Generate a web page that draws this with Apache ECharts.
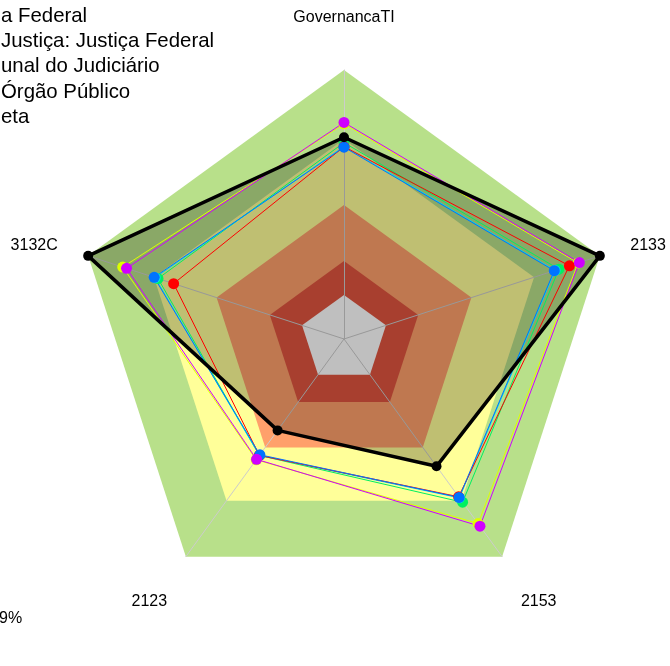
<!DOCTYPE html>
<html>
<head>
<meta charset="utf-8">
<script src="https://cdn.jsdelivr.net/npm/echarts@6/dist/echarts.min.js"></script>
<style>html,body{margin:0;padding:0;background:#fff}#c{width:670px;height:666px}</style>
</head>
<body>
<div id="c"></div>
<script>
// Axes, in counter-clockwise order starting at the top
const indicators = ['GovernancaTI', '3132C', '2123', '2153', '2133'];
const axisMax = 1;

// Background maturity bands (outer edge value) and colours
const bandLevels = [1.0, 0.743, 0.498, 0.29, 0.164];
const bandColors = ['#B8E08A', '#FFFF99', '#FFA06B', '#E0553F', '#FFFFFF'];

// Series values [GovernancaTI, 3132C, 2123, 2153, 2133]
const yellowVals  = [0.800, 0.865, 0.555, 0.848, 0.915];
const greenVals   = [0.730, 0.727, 0.535, 0.750, 0.840];
const cyanVals    = [0.716, 0.738, 0.535, 0.730, 0.825];
const redVals     = [0.715, 0.666, 0.535, 0.725, 0.881];
const blueVals    = [0.713, 0.742, 0.532, 0.728, 0.822];
const magentaVals = [0.805, 0.850, 0.553, 0.860, 0.920];
const metaVals    = [0.750, 1.000, 0.420, 0.585, 1.000];

// Visible legend texts (cut at the left edge in the original)
const legendLabels = ['a Federal', 'Justiça: Justiça Federal', 'unal do Judiciário', 'Órgão Público', 'eta'];
const footText = '9%';

const seriesDefs = [
  { name: 'Série A', color: '#DDFF00', values: yellowVals },
  { name: legendLabels[0], color: '#00F060', values: greenVals },
  { name: legendLabels[1], color: '#00E5E5', values: cyanVals },
  { name: legendLabels[2], color: '#FF0000', values: redVals },
  { name: legendLabels[3], color: '#0073FF', values: blueVals },
  { name: 'Série B', color: '#D000FF', values: magentaVals }
];

const font = 'Liberation Sans, Arial, sans-serif';
const chart = echarts.init(document.getElementById('c'));

const richKey = { 'GovernancaTI': 'top', '2153': 'bot', '2123': 'bot', '3132C': 'side', '2133': 'side' };

const series = [];
series.push({
  type: 'radar', name: 'bands', silent: true, z: 1,
  symbol: 'none',
  data: bandLevels.map((v, i) => ({
    value: indicators.map(() => v),
    lineStyle: { width: 0, opacity: 0 },
    areaStyle: { color: bandColors[i], opacity: 1 }
  }))
});
// Meta fill, under the coloured lines
series.push({
  type: 'radar', name: 'metaArea', z: 4, silent: true,
  symbol: 'none',
  lineStyle: { width: 0, opacity: 0 },
  areaStyle: { color: 'rgba(0,0,0,0.25)', opacity: 1 },
  data: [{ value: metaVals }]
});
seriesDefs.forEach(s => {
  series.push({
    type: 'radar', name: s.name, z: 5, silent: true,
    symbol: 'circle', symbolSize: 11,
    itemStyle: { color: s.color },
    lineStyle: { color: s.color, width: 1 },
    data: [{ value: s.values, name: s.name }]
  });
});
series.push({
  type: 'radar', name: legendLabels[4], z: 6, silent: true,
  symbol: 'circle', symbolSize: 10,
  itemStyle: { color: '#000' },
  lineStyle: { color: '#000', width: 3.5 },
  data: [{ value: metaVals, name: legendLabels[4] }]
});

chart.setOption({
  animation: false,
  backgroundColor: '#fff',
  textStyle: { fontFamily: font },
  title: {
    text: footText, left: -1, top: 611, padding: 0,
    textStyle: { fontSize: 16, fontWeight: 'normal', color: '#000', fontFamily: font }
  },
  legend: {
    orient: 'vertical', left: -29, top: 6, padding: 0,
    itemWidth: 25, itemHeight: 14, itemGap: 5.3,
    selectedMode: false,
    data: legendLabels,
    textStyle: { fontSize: 20.4, color: '#000', lineHeight: 20, fontFamily: font }
  },
  radar: {
    z: 3,
    center: [344, 339],
    radius: 269,
    shape: 'polygon',
    splitNumber: 1,
    indicator: indicators.map(n => ({ name: n, min: 0, max: axisMax })),
    axisNameGap: 32,
    axisName: {
      color: '#000', fontSize: 16, fontFamily: font,
      formatter: n => '{' + richKey[n] + '|' + n + '}',
      rich: {
        top: { fontSize: 16, color: '#000', padding: [0, 0, 12, 0] },
        bot: { fontSize: 16, color: '#000', padding: [38, 0, 0, 0] },
        side: { fontSize: 16, color: '#000' }
      }
    },
    splitLine: { show: false },
    splitArea: { show: false },
    axisTick: { show: false },
    axisLabel: { show: false },
    axisLine: { show: true, lineStyle: { color: '#CCCCCC', width: 1 } }
  },
  series: series
});
</script>
</body>
</html>
